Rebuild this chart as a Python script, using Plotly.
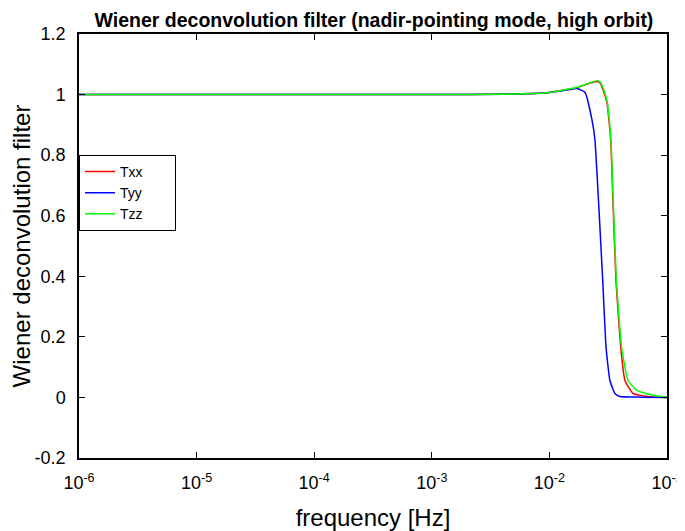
import plotly.graph_objects as go

# frequency [Hz] and filter values, one set per curve
freq_xx = [1e-6, 1e-4, 1e-3, 0.004, 0.01, 0.0172, 0.0201, 0.023, 0.0259,
           0.0272, 0.0285, 0.0309, 0.0332, 0.0349, 0.0368, 0.0404, 0.0439,
           0.0514, 0.0717, 0.1]
txx = [1.0, 1.0, 1.0, 1.001, 1.007, 1.023, 1.032, 1.04, 1.043,
       1.036, 1.017, 0.973, 0.85, 0.62, 0.387, 0.166, 0.056,
       0.013, 0.002, 0.0]

freq_yy = [1e-6, 1e-4, 1e-3, 0.004, 0.01, 0.0145, 0.0172, 0.0201, 0.023,
           0.0244, 0.0264, 0.0284, 0.0303, 0.0327, 0.0361, 0.0398, 0.06, 0.1]
tyy = [1.0, 1.0, 1.0, 1.001, 1.007, 1.016, 1.02, 1.007, 0.917,
       0.85, 0.62, 0.387, 0.166, 0.056, 0.013, 0.003, 0.001, 0.0]

freq_zz = [1e-6, 1e-4, 1e-3, 0.004, 0.01, 0.0172, 0.0201, 0.023, 0.0259,
           0.0273, 0.0287, 0.0311, 0.0334, 0.0351, 0.0371, 0.0411, 0.0466,
           0.0556, 0.0761, 0.1]
tzz = [1.0, 1.0, 1.0, 1.001, 1.007, 1.024, 1.033, 1.041, 1.046,
       1.039, 1.02, 0.975, 0.85, 0.62, 0.387, 0.166, 0.056,
       0.023, 0.007, 0.0]

x_ticks = [1e-6, 1e-5, 1e-4, 1e-3, 1e-2, 1e-1]
x_labels = ["10<sup>-6</sup>", "10<sup>-5</sup>", "10<sup>-4</sup>",
            "10<sup>-3</sup>", "10<sup>-2</sup>", "10<sup>-1</sup>"]
y_ticks = [-0.2, 0, 0.2, 0.4, 0.6, 0.8, 1.0, 1.2]
y_labels = ["-0.2", "0", "0.2", "0.4", "0.6", "0.8", "1", "1.2"]

font = "Liberation Sans, Arial, sans-serif"
pad = "\u00a0" * 7

fig = go.Figure()
for name, f, vals, color in [("Txx", freq_xx, txx, "#ff0000"),
                             ("Tyy", freq_yy, tyy, "#0000ff"),
                             ("Tzz", freq_zz, tzz, "#00ff00")]:
    fig.add_trace(go.Scatter(x=f, y=vals, name=name + pad, mode="lines",
                             line=dict(color=color, width=1.5, shape="spline",
                                       smoothing=0.4)))

axis_style = dict(showline=True, linecolor="black", linewidth=1.5,
                  mirror="allticks", ticks="inside", ticklen=6,
                  tickcolor="black", showgrid=False, zeroline=False,
                  automargin=False,
                  tickfont=dict(size=18, color="black"))

# page has an 8px body margin, so the figure is a bit smaller than the window
fig.update_layout(
    width=677, height=523,
    margin=dict(l=71, r=18, t=26, b=73),
    paper_bgcolor="white", plot_bgcolor="white",
    font=dict(family=font, color="black"),
    title=dict(text="<b>Wiener deconvolution filter (nadir-pointing mode, high orbit)</b>",
               x=0.5406, xanchor="center", y=0.977, yanchor="middle",
               font=dict(size=19.5)),
    legend=dict(x=0.0, y=0.715, xanchor="left", yanchor="top",
                bordercolor="black", borderwidth=1, bgcolor="white",
                font=dict(size=14), tracegroupgap=0),
    showlegend=True,
)
fig.update_xaxes(type="log", range=[-6, -1], tickvals=x_ticks, ticktext=x_labels,
                 ticklabelstandoff=8,
                 title=dict(text="frequency [Hz]", font=dict(size=24), standoff=22),
                 **axis_style)
fig.update_yaxes(range=[-0.2, 1.2], tickvals=y_ticks, ticktext=y_labels,
                 ticklabelstandoff=8,
                 title=dict(text="Wiener deconvolution filter", font=dict(size=24), standoff=8),
                 **axis_style)

fig.write_html("out.html")
